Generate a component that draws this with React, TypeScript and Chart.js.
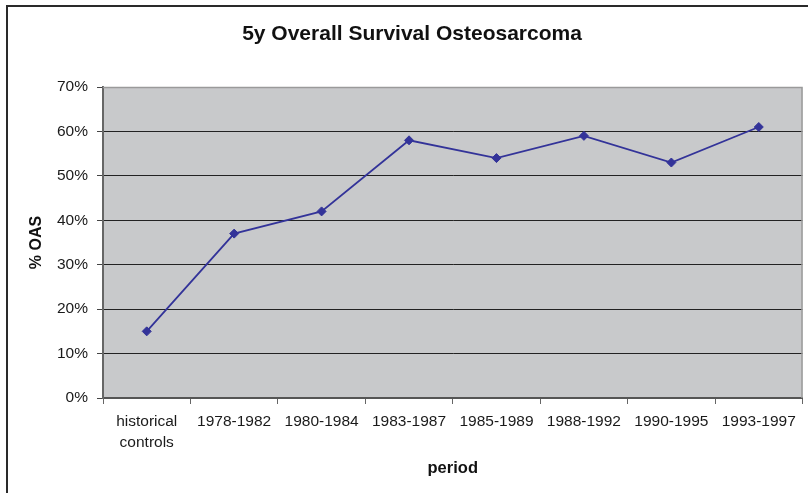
import React, { useEffect, useRef } from "react";
import { Chart, registerables } from "chart.js";

Chart.register(...registerables);

const chartTitle = "5y Overall Survival Osteosarcoma";
const categories: (string | string[])[] = [
  ["historical", "controls"],
  "1978-1982",
  "1980-1984",
  "1983-1987",
  "1985-1989",
  "1988-1992",
  "1990-1995",
  "1993-1997",
];
const survival: number[] = [15, 37, 42, 58, 54, 59, 53, 61];
const yTicks: number[] = [0, 10, 20, 30, 40, 50, 60, 70];

const FONT = "'Liberation Sans', Arial, sans-serif";
const LINE = "#333399";
const PLOT_BG = "#c8c9cb";

const framePlugin = {
  id: "frame",
  beforeDraw(chart: any) {
    const { ctx, chartArea } = chart;
    ctx.save();
    ctx.fillStyle = "#ffffff";
    ctx.fillRect(0, 0, chart.width, chart.height);
    ctx.fillStyle = PLOT_BG;
    ctx.fillRect(chartArea.left, chartArea.top, chartArea.right - chartArea.left, chartArea.bottom - chartArea.top);
    ctx.strokeStyle = "#2a2a2a";
    ctx.lineWidth = 2;
    ctx.strokeRect(7, 6, chart.width + 20, chart.height + 20);
    ctx.fillStyle = "#111";
    ctx.font = "bold 21px " + FONT;
    ctx.textAlign = "center";
    ctx.textBaseline = "middle";
    ctx.fillText(chartTitle, 412, 34);
    ctx.restore();
  },
  beforeDatasetsDraw(chart: any) {
    const { ctx, chartArea } = chart;
    ctx.save();
    ctx.strokeStyle = "#9a9a9a";
    ctx.lineWidth = 1.5;
    ctx.beginPath();
    ctx.moveTo(chartArea.left, chartArea.top + 0.5);
    ctx.lineTo(chartArea.right - 0.5, chartArea.top + 0.5);
    ctx.lineTo(chartArea.right - 0.5, chartArea.bottom);
    ctx.stroke();
    ctx.restore();
  },
};

export default function App() {
  const ref = useRef<HTMLCanvasElement | null>(null);
  useEffect(() => {
    if (!ref.current) return;
    const chart = new Chart(ref.current, {
      type: "line",
      data: {
        labels: categories as any,
        datasets: [
          {
            data: survival,
            borderColor: LINE,
            backgroundColor: LINE,
            borderWidth: 1.8,
            pointStyle: "rectRot",
            pointRadius: 4.5,
            pointBorderWidth: 1,
            pointBackgroundColor: LINE,
            pointBorderColor: LINE,
            tension: 0,
          },
        ],
      },
      options: {
        animation: false,
        responsive: false,
        layout: { padding: { left: 0, right: 4, top: 87, bottom: 0 } },
        plugins: {
          legend: { display: false },
          tooltip: { enabled: false },
          title: { display: false },
        },
        scales: {
          x: {
            type: "category",
            offset: true,
            afterFit(scale: any) {
              scale.height = 95;
            },
            grid: {
              offset: true,
              drawOnChartArea: false,
              drawTicks: true,
              tickLength: 6,
              tickColor: "#666",
              tickWidth: 1,
            },
            border: { display: true, color: "#555", width: 2 },
            ticks: {
              color: "#1a1a1a",
              padding: 8,
              maxRotation: 0,
              autoSkip: false,
              font: { family: FONT, size: 15.5, lineHeight: 1.3 },
            },
            title: {
              display: true,
              text: "period",
              color: "#111",
              font: { family: FONT, size: 16.5, weight: "bold", lineHeight: 1.2 },
              padding: { top: 0, bottom: 15 },
            },
          },
          y: {
            min: 0,
            max: 70,
            afterFit(scale: any) {
              scale.width = 103;
            },
            afterBuildTicks(scale: any) {
              scale.ticks = yTicks.map((v) => ({ value: v }));
            },
            grid: {
              color: (c: any) => (c.tick && c.tick.value === 70 ? "rgba(0,0,0,0)" : "#222"),
              lineWidth: 1,
              drawTicks: true,
              tickLength: 6,
              tickColor: "#444",
            },
            border: { display: true, color: "#666", width: 2 },
            ticks: {
              color: "#1a1a1a",
              padding: 9,
              font: { family: FONT, size: 15.5 },
              callback: (v: any) => v + "%",
            },
            title: {
              display: true,
              text: "% OAS",
              color: "#111",
              font: { family: FONT, size: 16, weight: "bold", lineHeight: 1.2 },
              padding: { top: 27, bottom: 0 },
            },
          },
        },
      },
      plugins: [framePlugin],
    });
    return () => chart.destroy();
  }, []);
  return (
    <div style={{ position: "absolute", left: 0, top: 0, width: 808, height: 493 }}>
      <canvas ref={ref} width={808} height={493} />
    </div>
  );
}
